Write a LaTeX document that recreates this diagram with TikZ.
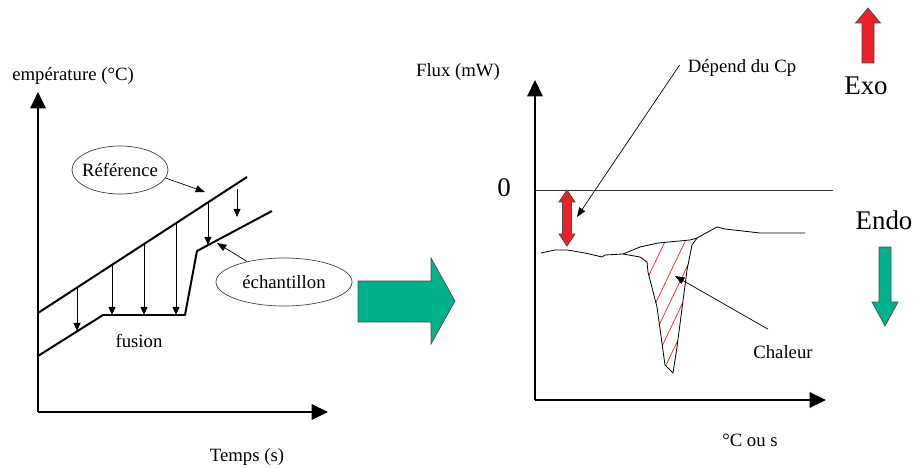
\documentclass[tikz,border=0pt]{standalone}
\usepackage{fontspec}
\setmainfont{Liberation Serif}
\usetikzlibrary{arrows.meta,shapes.geometric}
\definecolor{exored}{RGB}{234,33,39}
\definecolor{endogreen}{RGB}{0,178,137}

\begin{document}
\begin{tikzpicture}[x=0.3mm, y=-0.3mm,
  lab/.style={font=\fontsize{16}{18}\selectfont, inner sep=0pt},
  big/.style={font=\fontsize{23}{26}\selectfont, inner sep=0pt},
  axis/.style={line width=2.5pt, -{Triangle[length=14pt,width=13pt]}},
  curve/.style={line width=1.7pt, line join=round},
  thin/.style={line width=0.7pt, line join=round},
  drop/.style={line width=0.7pt, -{Triangle[length=7pt,width=6pt]}},
  ptr/.style={line width=0.6pt, -{Triangle[length=8pt,width=6pt]}},
  bubble/.style={ellipse, draw=black!75, line width=0.6pt, inner sep=0pt},
  block/.style={draw=black!70, line width=0.6pt}
]
\useasboundingbox (0,0) rectangle (918,468);

% left panel: temperature against time
\coordinate (O1) at (38,412);
\coordinate (Ttop) at (38,92);
\coordinate (Tend) at (328,412);
\draw[axis] (O1) -- (Ttop);
\draw[axis] (O1) -- (Tend);
\node[lab] (tlab) at (73,76) {empérature (°C)};
\node[lab] (timelab) at (247,457) {Temps (s)};

\draw[curve] (38,313) -- (247,177);
\draw[curve] (38,356) -- (103,315) -- (185,315) -- (197,251) -- (272,211);
\foreach \x/\ya/\yb in {77/287.6/331, 112/264.8/315, 144/244/315, 176/223.2/315, 208/202.4/245, 237/189/217}
  \draw[drop] (\x,\ya) -- (\x,\yb);

\node[bubble, minimum width=28.8mm, minimum height=14.4mm] (ref) at (120,170) {};
\node[lab] at (ref) {Référence};
\node[bubble, minimum width=40.8mm, minimum height=14.4mm] (samp) at (284,282) {};
\node[lab] at (samp) {échantillon};
\node[lab] (fus) at (139,341) {fusion};
\coordinate (refpt) at (205,192);
\coordinate (samppt) at (217,243);
\draw[ptr] (ref.-10) -- (refpt);
\draw[ptr] (samp.151) -- (samppt);

% transition arrow
\filldraw[block, fill=endogreen] (358,281) -- (431,281) -- (431,258) -- (455,301)
  -- (431,344) -- (431,322) -- (358,322) -- cycle;

% right panel: heat flux
\coordinate (O2) at (535,400);
\coordinate (Ftop) at (535,80);
\coordinate (Fend) at (826,400);
\draw[axis] (O2) -- (Ftop);
\draw[axis] (O2) -- (Fend);
\node[lab] (flab) at (458,72) {Flux (mW)};
\node[lab] (xlab) at (750,440) {°C ou s};
\node[big] (zero) at (504,188) {0};
\draw[thin, black!80] (535,190) -- (833,190);

% hatched peak
\begin{scope}
  \clip (623,254) -- (640,247) -- (658,243) -- (690,240) -- (697,238) -- (692,245)
    -- (687,270) -- (677,347) -- (673,373) -- (665,365) -- (657,307) -- (648,272)
    -- (647,262) -- (640,257) -- cycle;
  \foreach \c in {637,657,671,684,697}
    \draw[exored, line width=0.6pt] (\c-40,384) -- (\c+45,206);
\end{scope}
\draw[thin] (541,253) -- (555,250) -- (567,250) -- (585,253) -- (602,257) -- (605,255)
  -- (623,254) -- (640,257) -- (647,262) -- (648,272) -- (657,307) -- (665,365)
  -- (673,373) -- (677,347) -- (687,270) -- (692,245) -- (697,238) -- (717,227)
  -- (725,229) -- (760,233) -- (805,233);
\draw[thin] (623,254) -- (640,247) -- (658,243) -- (690,240) -- (697,238);

% Cp offset
\filldraw[block, fill=exored] (567,190) -- (575,202) -- (571.5,202) -- (571.5,234)
  -- (575,234) -- (567,246) -- (559,234) -- (562.5,234) -- (562.5,202) -- (559,202) -- cycle;
\node[lab] (cp) at (742,68) {Dépend du Cp};
\coordinate (cppt) at (577,217);
\draw[ptr] ([shift={(-8,-3)}]cp.west) -- (cppt);

\node[lab] (heat) at (783,352) {Chaleur};
\coordinate (heatpt) at (675,276);
\draw[ptr] ([shift={(-15,-16)}]heat.north) -- (heatpt);

% exo / endo
\node[big] (exo) at (866,86) {Exo};
\node[big] (endo) at (884,220) {Endo};
\filldraw[block, fill=exored] (868,8) -- (880.5,23) -- (874,23) -- (874,63)
  -- (862,63) -- (862,23) -- (855.5,23) -- cycle;
\filldraw[block, fill=endogreen] (885,326) -- (898,302) -- (891,302) -- (891,247)
  -- (879,247) -- (879,302) -- (872,302) -- cycle;
\end{tikzpicture}
\end{document}
